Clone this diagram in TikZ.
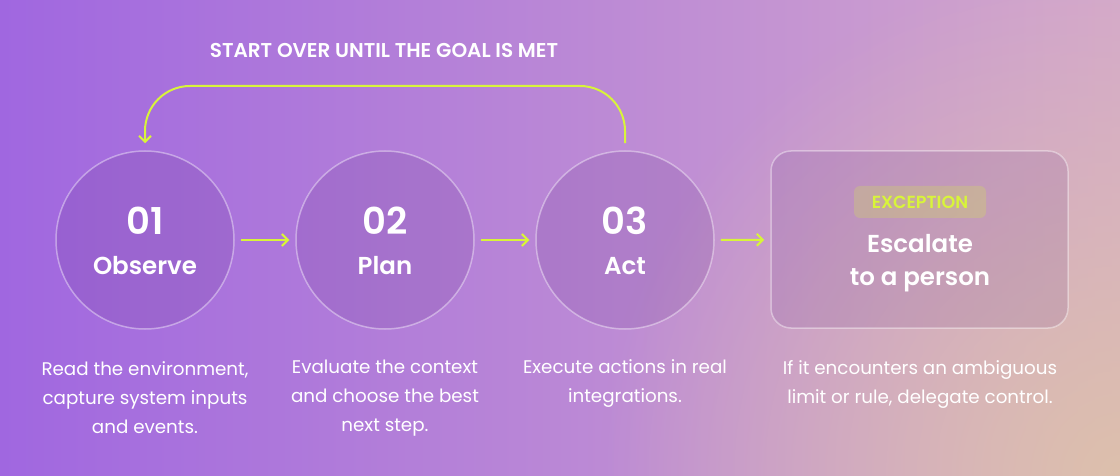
\documentclass[tikz,border=0pt]{standalone}
\usepackage{fontspec}
\IfFontExistsTF{Poppins SemiBold}{\setmainfont{Poppins}[BoldFont={Poppins SemiBold}]}{\setmainfont{Poppins}}
\usetikzlibrary{arrows.meta,fadings}
\definecolor{lime}{HTML}{D8F43A}
\definecolor{bgL}{HTML}{A067E0}
\definecolor{bgM}{HTML}{BE86D8}
\definecolor{bgR}{HTML}{D4A8CC}
\definecolor{peach}{HTML}{DDC0AC}
\definecolor{shadefill}{HTML}{5A2A80}
\tikzfading[name=radfade, inner color=transparent!0, outer color=transparent!100]
\tikzset{
  stepcircle/.style={circle, minimum size=178pt, inner sep=0pt, draw=white, draw opacity=0.4, line width=1.5pt, fill=shadefill, fill opacity=0.14},
  escbox/.style={rectangle, rounded corners=20pt, minimum width=297pt, minimum height=177pt, inner sep=0pt, draw=white, draw opacity=0.4, line width=1.5pt, fill=shadefill, fill opacity=0.12},
  badge/.style={rectangle, rounded corners=6pt, minimum width=132pt, minimum height=32pt, inner sep=0pt, fill=lime, fill opacity=0.22},
  flow/.style={draw=lime, line width=2pt, -{Straight Barb[length=6pt,width=12pt,line width=2pt]}},
  numtxt/.style={text=white, font=\fontsize{37}{40}\selectfont\bfseries},
  steptxt/.style={text=white, font=\fontsize{24.5}{28}\selectfont\bfseries},
  desc/.style={text=white, align=center, font=\fontsize{18.3}{29}\selectfont},
  titletxt/.style={text=white, font=\fontsize{20}{24}\selectfont\bfseries},
  badgetxt/.style={text=lime, font=\fontsize{17.5}{20}\selectfont\bfseries},
}
\begin{document}
\begin{tikzpicture}[x=1pt,y=-1pt]
\useasboundingbox (0,0) rectangle (1120,476);
\begin{scope}
\clip (0,0) rectangle (1120,476);
\shade[left color=bgL, middle color=bgM, right color=bgR] (0,0) rectangle (1120,476);
\fill[peach, path fading=radfade] (1120,476) circle (520);
\end{scope}

\node[titletxt] (title) at (384,50) {START OVER UNTIL THE GOAL IS MET};

\node[stepcircle] (c1) at (145,240) {};
\node[stepcircle] (c2) at (385,240) {};
\node[stepcircle] (c3) at (625,240) {};
\node[escbox] (box) at (919.5,239.5) {};

\node[numtxt] (n1) at (145,221) {01};
\node[steptxt] (s1) at (145,266) {Observe};
\node[numtxt] (n2) at (385,221) {02};
\node[steptxt] (s2) at (385,266) {Plan};
\node[numtxt] (n3) at (625,221) {03};
\node[steptxt] (s3) at (625,266) {Act};

\node[badge] (bd) at (920,202) {};
\node[badgetxt] (bdt) at (bd.center) {EXCEPTION};
\node[steptxt, align=center, font=\fontsize{24.5}{33}\selectfont\bfseries] (esc) at (920,263) {Escalate\\to a person};

\draw[flow, shorten <=6pt, shorten >=6pt] (c1) -- (c2);
\draw[flow, shorten <=6pt, shorten >=6pt] (c2) -- (c3);
\draw[flow, shorten <=6pt, shorten >=6pt] (c3) -- (box);

\coordinate (lt) at (145,86);
\draw[flow, rounded corners=45pt] ([yshift=7pt]c3.north) |- (lt) -- ([yshift=7pt]c1.north);

\node[desc] (d1) at (145,398) {Read the environment,\\capture system inputs\\and events.};
\node[desc] (d2) at (385,398) {Evaluate the context\\and choose the best\\next step.};
\node[desc] (d3) at (625,384) {Execute actions in real\\integrations.};
\node[desc] (d4) at (920,384) {If it encounters an ambiguous\\limit or rule, delegate control.};
\end{tikzpicture}
\end{document}
